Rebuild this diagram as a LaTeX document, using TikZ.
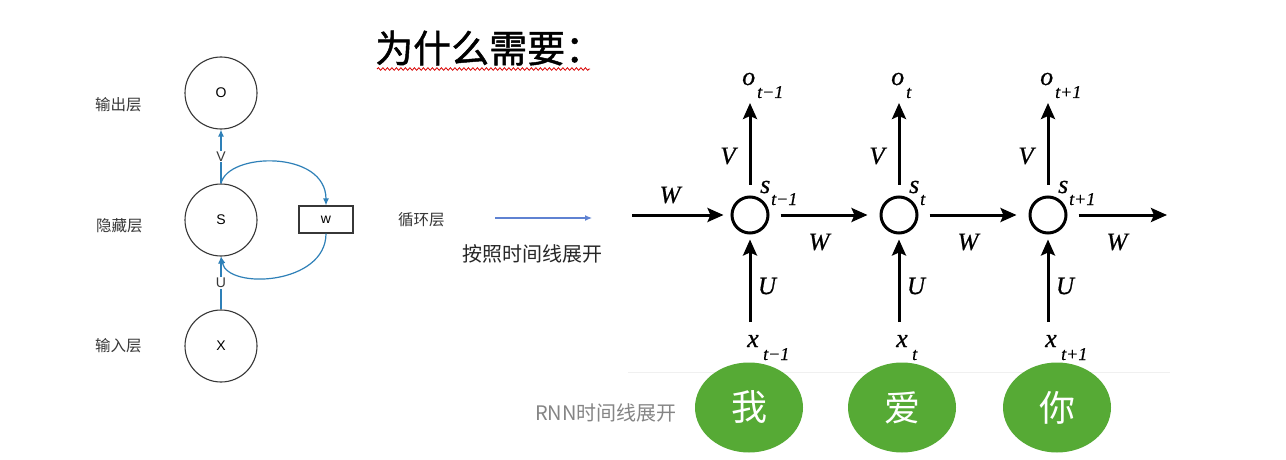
\documentclass[tikz,border=0pt]{standalone}
\usepackage{fontspec}
\setmainfont{Liberation Serif}
\newfontfamily\rlab[ItalicFeatures={FakeBold=0.6}]{Liberation Serif}
\newfontfamily\cjk{Noto Sans CJK SC}
\newfontfamily\cjkt[FakeBold=1.2]{Noto Sans CJK SC}
\newfontfamily\lsans{Liberation Sans}
\usetikzlibrary{arrows.meta,shapes.geometric,decorations.pathmorphing}
\definecolor{rnnblue}{RGB}{46,128,184}
\definecolor{midblue}{RGB}{95,130,210}
\definecolor{leafgreen}{RGB}{86,170,53}
\definecolor{darkgray}{RGB}{55,55,55}
\tikzset{
  lcirc/.style={circle,draw=darkgray,line width=1.1pt,minimum size=72pt,inner sep=0pt,font=\lsans\fontsize{14}{14}\selectfont},
  lbox/.style={rectangle,draw=darkgray,line width=1.1pt,minimum width=54pt,minimum height=27pt,inner sep=0pt,font=\lsans\fontsize{14}{14}\selectfont},
  layer/.style={anchor=west,inner sep=0pt,text=darkgray,font=\cjk\fontsize{15.5}{15.5}\selectfont},
  barrow/.style={draw=rnnblue,line width=1.2pt,-{Latex[length=7pt,width=6pt]}},
  blabel/.style={fill=white,inner sep=1pt,font=\lsans\fontsize{14}{14}\selectfont,text=darkgray},
  rcirc/.style={circle,draw=black,line width=3pt,minimum size=36pt,inner sep=0pt},
  rarrow/.style={draw=black,line width=3pt,-{Stealth[length=16pt,width=14pt,inset=3pt]}},
  mainlab/.style={anchor=base west,inner sep=0pt,font=\rlab\itshape\fontsize{26}{26}\selectfont},
  sublab/.style={anchor=base west,inner sep=0pt,font=\rlab\itshape\fontsize{18}{18}\selectfont},
  wlab/.style={inner sep=0pt,font=\rlab\itshape\fontsize{25}{25}\selectfont},
  word/.style={ellipse,fill=leafgreen,minimum width=108pt,minimum height=90pt,inner sep=0pt,text=white,font=\cjk\fontsize{36}{36}\selectfont}
}
\begin{document}
\begin{tikzpicture}[x=1pt,y=-1pt]
\fill[white] (0,0) rectangle (1286,460);
\useasboundingbox (0,0) rectangle (1286,460);

% title
\node[anchor=west,inner sep=0pt,font=\cjkt\fontsize{38}{38}\selectfont] (title) at (375,48) {为什么需要：};
\draw[red!85!black,line width=0.8pt,decorate,decoration={snake,amplitude=1.3pt,segment length=4.5pt}] (377,69) -- (590,69);

% left diagram
\node[lcirc] (O) at (221,93) {O};
\node[lcirc] (S) at (221,220) {S};
\node[lcirc] (X) at (221,346) {X};
\node[lbox] (Wb) at (326,219.5) {w};
\node[layer] (l1) at (95,105) {输出层};
\node[layer] (l2) at (96,226) {隐藏层};
\node[layer] (l3) at (95,346) {输入层};
\node[layer] (l4) at (398,220) {循环层};

\draw[barrow] (S.north) -- node[blabel] (Vl) {V} (O.south);
\draw[barrow] (X.north) -- node[blabel,pos=0.5] (Ul) {U} (S.south);
\draw[barrow] (S.north) .. controls (228,152) and (326,150) .. (Wb.north);
\draw[barrow] (Wb.south) .. controls (326,285) and (228,290) .. (S.south);

% middle arrow & text
\coordinate (ma) at (495,218);
\coordinate (mb) at (592,218);
\draw[midblue,line width=1.2pt,-{Latex[length=7pt,width=6pt]}] (ma) -- (mb);
\node[anchor=west,inner sep=0pt,text=black!85,font=\cjk\fontsize{20}{20}\selectfont] (unfold) at (462,254) {按照时间线展开};

% right diagram
\foreach \i/\cx/\sb in {1/750/t−1, 2/899/t, 3/1048/t+1}{
  \node[rcirc] (c\i) at (\cx,215) {};
  \coordinate (top\i) at (\cx,103);
  \coordinate (bot\i) at (\cx,322);
  \draw[rarrow] ([yshift=11pt]c\i.north) -- (top\i);
  \draw[rarrow] (bot\i) -- ([yshift=-5pt]c\i.south);
  \node[mainlab] (o\i) at (\cx-8,85) {o};
  \node[sublab] (os\i) at (\cx+7,98) {\sb};
  \node[mainlab] (s\i) at (\cx+10,193) {s};
  \node[sublab] (ss\i) at (\cx+21,205) {\sb};
  \node[mainlab] (x\i) at (\cx-3,347) {x};
  \node[sublab] (xs\i) at (\cx+13,360) {\sb};
  \node[wlab] (V\i) at (\cx-22,156) {V};
  \node[wlab] (U\i) at (\cx+17,286) {U};
  \node[wlab] (Wo\i) at (\cx+69,242) {W};
}
\coordinate (in) at (632,215);
\coordinate (out) at (1167,215);
\node[wlab] (Win) at (670,195) {W};
\draw[rarrow] (in) -- ([xshift=-7pt]c1.west);
\draw[rarrow] ([xshift=11pt]c1.east) -- ([xshift=-12pt]c2.west);
\draw[rarrow] ([xshift=11pt]c2.east) -- ([xshift=-12pt]c3.west);
\draw[rarrow] ([xshift=11pt]c3.east) -- (out);

% bottom
\draw[black!6,line width=1pt] (628,372) -- (1170,372);
\node[anchor=west,inner sep=0pt,text=black!48,font=\cjk\fontsize{20}{20}\selectfont] (rnn) at (535,413) {RNN时间线展开};
\node[word] (w1) at (749,407.5) {我};
\node[word] (w2) at (902,407.5) {爱};
\node[word] (w3) at (1057,407.5) {你};
\end{tikzpicture}
\end{document}
